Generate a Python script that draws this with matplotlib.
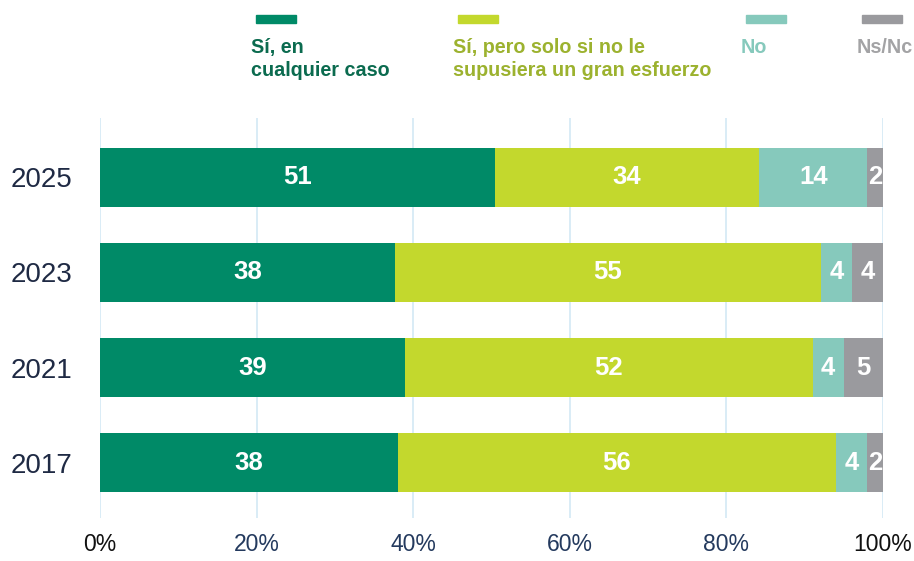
import matplotlib.pyplot as plt
from matplotlib.patches import Rectangle
import numpy as np

plt.rcParams['font.family'] = ['Liberation Sans', 'DejaVu Sans']

years = ['2017', '2021', '2023', '2025']
si_siempre = [38, 39, 38, 51]
si_esfuerzo = [56, 52, 55, 34]
no = [4, 4, 4, 14]
nsnc = [2, 5, 4, 2]

series = [si_siempre, si_esfuerzo, no, nsnc]
names = ['Sí, en\ncualquier caso', 'Sí, pero solo si no le\nsupusiera un gran esfuerzo', 'No', 'Ns/Nc']
colors = ['#008A67', '#C3D82D', '#86C9BC', '#9A9A9E']
text_colors = ['#0B6B4F', '#9CB22F', '#86C9BC', '#A3A3A5']
tick_colors = ['#111111', '#243A5E', '#243A5E', '#243A5E', '#243A5E', '#111111']

fig = plt.figure(figsize=(9.14, 5.61), dpi=100)
ax = fig.add_axes([100/914, 1-518/561, 783/914, 400/561])

data = np.array(series, dtype=float)
totals = data.sum(axis=0)
pct = data / totals * 100

y = np.arange(len(years))
left = np.zeros(len(years))
for i in range(len(series)):
    ax.barh(y, pct[i], left=left, height=0.62, color=colors[i], zorder=3)
    for j in range(len(years)):
        ax.text(left[j] + pct[i][j] / 2, y[j], str(series[i][j]), ha='center', va='center',
                color='white', fontsize=18.5, fontweight='bold', zorder=4)
    left += pct[i]

ax.set_xlim(0, 100)
ax.set_ylim(-0.584, 3.626)
ax.set_xticks(range(0, 101, 20))
ax.set_xticklabels([f'{v}%' for v in range(0, 101, 20)])
for lbl, c in zip(ax.get_xticklabels(), tick_colors):
    lbl.set_color(c)
ax.set_yticks(y)
ax.set_yticklabels(years)
ax.tick_params(axis='x', length=0, labelsize=16.5, pad=11)
ax.tick_params(axis='y', length=0, labelsize=20, pad=20, labelcolor='#1F2A44')
ax.grid(axis='x', color='#D3E9F5', linewidth=1.2, zorder=0)
for s in ax.spines.values():
    s.set_visible(False)

# legend
leg_x = [256, 458, 746, 862]
for i in range(4):
    fig.add_artist(Rectangle((leg_x[i]/914, 1-23/561), 40/914, 8/561,
                             transform=fig.transFigure, color=colors[i]))
    fig.text((leg_x[i]-5)/914, 1-38/561, names[i], ha='left', va='top', fontsize=14.2,
             fontweight='bold', color=text_colors[i], linespacing=1.25)

fig.savefig('out.png', dpi=100)
